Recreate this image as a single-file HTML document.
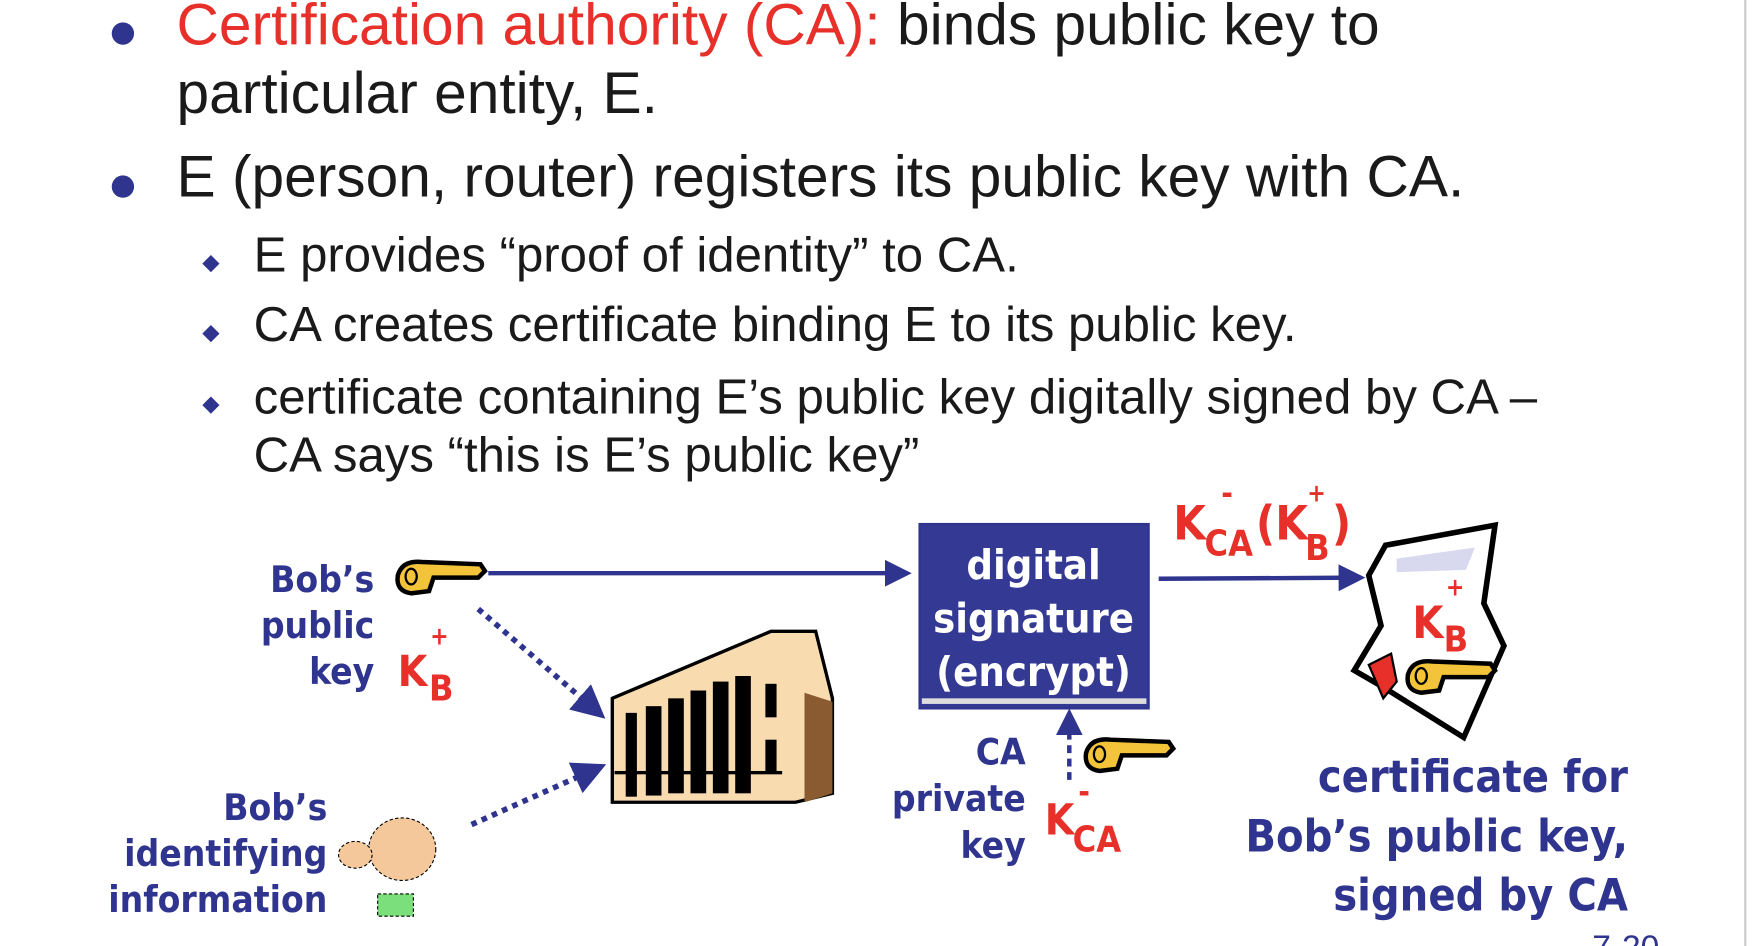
<!DOCTYPE html>
<html><head><meta charset="utf-8"><style>
html,body{margin:0;padding:0;background:#fff;overflow:hidden}
#w{position:relative;width:1568px;height:847px;transform:scale(1.11735);transform-origin:0 0;font-family:"Liberation Sans",sans-serif}
.t{position:absolute;white-space:nowrap;color:#1a1a1a}
.d{position:absolute;font-family:"DejaVu Sans Condensed","DejaVu Sans",sans-serif;font-weight:bold;color:#2f358f;white-space:nowrap;line-height:1}
.r{color:#e8302a}
</style></head><body><div id="w">
<div style="position:absolute;left:1561px;top:0;width:2px;height:847px;background:#ccc"></div>
<div style="position:absolute;left:100px;top:20px;width:20px;height:20px;border-radius:50%;background:#2f358f"></div>
<div style="position:absolute;left:100px;top:157px;width:20px;height:20px;border-radius:50%;background:#2f358f"></div>
<div class="t" style="left:158px;top:-8px;font-size:52.5px"><span style="color:#e8302a">Certification authority (CA):</span> binds public key to</div>
<div class="t" style="left:158px;top:53px;font-size:52.5px">particular entity, E.</div>
<div class="t" style="left:158px;top:128px;font-size:52.5px">E (person, router) registers its public key with CA.</div>
<div class="t" style="left:181px;top:222px;font-size:20px;color:#2f358f">◆</div>
<div class="t" style="left:181px;top:285px;font-size:20px;color:#2f358f">◆</div>
<div class="t" style="left:181px;top:349px;font-size:20px;color:#2f358f">◆</div>
<div class="t" style="left:227px;top:204px;font-size:44px">E provides “proof of identity” to CA.</div>
<div class="t" style="left:227px;top:266px;font-size:44px">CA creates certificate binding E to its public key.</div>
<div class="t" style="left:227px;top:331px;font-size:44px">certificate containing E’s public key digitally signed by CA –</div>
<div class="t" style="left:227px;top:383px;font-size:44px">CA says “this is E’s public key”</div>

<svg style="position:absolute;left:0;top:0" width="1568" height="847">
<defs><marker id="a" markerWidth="6" markerHeight="6" refX="5" refY="3" orient="auto"><path d="M0,0 L6,3 L0,6 z" fill="#2f358f"/></marker>
<g id="key"><path d="M20,0 L72,2 L76,8 L70,14 L30,14 L26,26 L10,28 Q-4,26 -2,12 Q2,-2 20,0z" fill="#f3c43a" stroke="#000" stroke-width="4"/><ellipse cx="10" cy="13" rx="5" ry="7" fill="none" stroke="#000" stroke-width="2"/></g></defs>
<line x1="437" y1="513" x2="812" y2="513" stroke="#2f358f" stroke-width="4" marker-end="url(#a)"/>
<line x1="1037" y1="518" x2="1218" y2="517" stroke="#2f358f" stroke-width="4" marker-end="url(#a)"/>
<line x1="428" y1="545" x2="538" y2="640" stroke="#2f358f" stroke-width="5" stroke-dasharray="5,5" marker-end="url(#a)"/>
<line x1="422" y1="738" x2="538" y2="686" stroke="#2f358f" stroke-width="5" stroke-dasharray="5,5" marker-end="url(#a)"/>
<line x1="957" y1="698" x2="957" y2="638" stroke="#2f358f" stroke-width="4" stroke-dasharray="7,5" marker-end="url(#a)"/>
<use href="#key" x="358" y="503"/>
<use href="#key" x="974" y="662"/>
<rect x="823" y="469" width="205" height="165" fill="#343a93" stroke="#2f358f" stroke-width="2"/>
<rect x="825" y="625" width="201" height="5" fill="#ddd"/>
<path d="M548,625 L690,565 L730,565 L745,625 L745,710 L712,718 L548,718z" fill="#f8dcb0" stroke="#000" stroke-width="3"/>
<path d="M720,620 L745,628 L745,710 L720,718z" fill="#8a5a30"/>
<g fill="#000"><rect x="560" y="638" width="10" height="75"/><rect x="578" y="632" width="14" height="80"/><rect x="598" y="625" width="14" height="85"/><rect x="618" y="618" width="14" height="92"/><rect x="638" y="610" width="14" height="100"/><rect x="658" y="605" width="14" height="105"/><rect x="685" y="612" width="10" height="30"/><rect x="685" y="662" width="10" height="30"/><rect x="550" y="690" width="150" height="3"/></g>
<ellipse cx="360" cy="760" rx="30" ry="28" fill="#f4c89a" stroke="#000" stroke-dasharray="3,2"/>
<ellipse cx="318" cy="765" rx="15" ry="12" fill="#f4c89a" stroke="#000" stroke-dasharray="3,2"/>
<rect x="338" y="800" width="32" height="20" fill="#7be07b" stroke="#000" stroke-dasharray="3,2"/>
<path d="M1240,488 L1338,470 L1328,540 L1346,578 L1310,660 L1238,615 L1212,600 L1236,560 L1225,515z" fill="#fff" stroke="#000" stroke-width="5"/>
<path d="M1250,500 L1320,490 L1312,510 L1250,512z" fill="#d8d8ee"/>
<use href="#key" x="1262" y="592"/>
<path d="M1225,595 L1245,585 L1250,610 L1238,625z" fill="#e8302a" stroke="#000" stroke-width="2"/>
</svg>

<div class="d" style="left:830px;top:482px;width:190px;text-align:center;color:#fff;font-size:37px;line-height:48px">digital<br>signature<br>(encrypt)</div>
<div class="d" style="left:180px;top:498px;width:155px;text-align:right;font-size:33px;line-height:41px">Bob’s<br>public<br>key</div>
<div class="d r" style="left:356px;top:582px;font-size:38px">K</div><div class="d r" style="left:385px;top:560px;font-size:22px">+</div><div class="d r" style="left:384px;top:600px;font-size:32px">B</div>
<div class="d" style="left:60px;top:702px;width:233px;text-align:right;font-size:33px;line-height:41px">Bob’s<br>identifying<br>information</div>
<div class="d" style="left:760px;top:652px;width:158px;text-align:right;font-size:33px;line-height:42px">CA<br>private<br>key</div>
<div class="d r" style="left:935px;top:715px;font-size:38px">K</div><div class="d r" style="left:965px;top:695px;font-size:28px">-</div><div class="d r" style="left:960px;top:735px;font-size:32px">CA</div>
<div class="d r" style="left:1050px;top:448px;font-size:42px">K</div><div class="d r" style="left:1093px;top:428px;font-size:28px">-</div><div class="d r" style="left:1078px;top:470px;font-size:32px">CA</div><div class="d r" style="left:1124px;top:448px;font-size:42px">(K</div><div class="d r" style="left:1170px;top:432px;font-size:22px">+</div><div class="d r" style="left:1168px;top:474px;font-size:32px">B</div><div class="d r" style="left:1192px;top:448px;font-size:42px">)</div>
<div class="d r" style="left:1264px;top:538px;font-size:40px">K</div><div class="d r" style="left:1294px;top:516px;font-size:22px">+</div><div class="d r" style="left:1292px;top:556px;font-size:32px">B</div>
<div class="d" style="left:1040px;top:670px;width:417px;text-align:right;font-size:40px;line-height:53px">certificate for<br>Bob’s public key,<br>signed by CA</div>
<div class="t" style="left:1425px;top:832px;font-size:30px;color:#2f358f">7-20</div>
</div></body></html>
